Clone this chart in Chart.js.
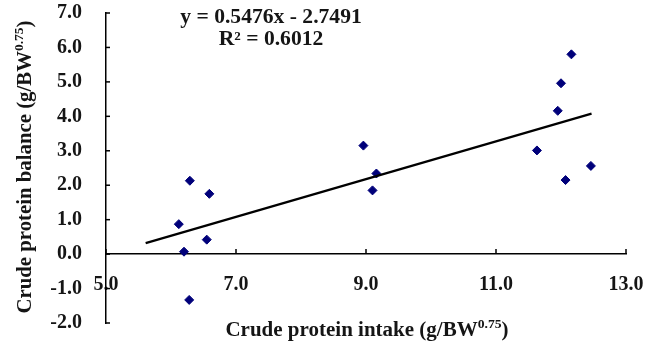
<!DOCTYPE html>
<html><head><meta charset="utf-8">
<script src="https://cdn.jsdelivr.net/npm/chart.js@4"></script>
<style>html,body{margin:0;padding:0;background:#fff}#wrap{width:655px;height:351px}</style>
</head><body><div id="wrap"><canvas id="c" width="655" height="351"></canvas></div>
<script>
const intake  = [6.29, 6.59, 6.12, 6.55, 6.20, 6.28, 8.96, 9.16, 9.10, 11.63, 11.95, 12.00, 12.16, 12.46, 12.07];
const balance = [2.13, 1.75, 0.87, 0.42, 0.07, -1.33, 3.15, 2.34, 1.85, 3.01, 4.16, 4.96, 5.80, 2.56, 2.15];
// Trend line end points
const trendX = [5.61, 12.47];
const trendY = [0.32, 4.08];
// Tick values
const xTicks = [5, 7, 9, 11, 13];
const yTicks = [-2, -1, 0, 1, 2, 3, 4, 5, 6, 7];
const equationText = 'y = 0.5476x - 2.7491';
const r2Text = 'R\u00B2 = 0.6012';
const xTitle = ['Crude protein intake (g/BW', '0.75', ')'];
const yTitle = ['Crude protein balance (g/BW', '0.75', ')'];

const FONT = 'Liberation Serif, Times New Roman, serif';

// draws main + superscript + tail centred on (0,0) of current transform
function drawSup(ctx, parts, size, supSize) {
  ctx.font = 'bold ' + size + 'px ' + FONT;
  const w1 = ctx.measureText(parts[0]).width;
  const w3 = ctx.measureText(parts[2]).width;
  ctx.font = 'bold ' + supSize + 'px ' + FONT;
  const w2 = ctx.measureText(parts[1]).width;
  const sx = -(w1 + w2 + w3) / 2;
  ctx.textAlign = 'left';
  ctx.textBaseline = 'alphabetic';
  ctx.font = 'bold ' + size + 'px ' + FONT;
  ctx.fillText(parts[0], sx, 0);
  ctx.font = 'bold ' + supSize + 'px ' + FONT;
  ctx.fillText(parts[1], sx + w1, -size * 0.42);
  ctx.font = 'bold ' + size + 'px ' + FONT;
  ctx.fillText(parts[2], sx + w1 + w2, 0);
}

const decor = {
  id: 'decor',
  afterDraw(chart) {
    const {ctx, scales: {x, y}, chartArea} = chart;
    ctx.save();
    ctx.strokeStyle = '#000';
    ctx.lineWidth = 1.5;
    const y0 = y.getPixelForValue(0);
    xTicks.forEach(v => {
      const px = x.getPixelForValue(v);
      ctx.beginPath(); ctx.moveTo(px, y0); ctx.lineTo(px, y0 - 5); ctx.stroke();
    });
    const lx = chartArea.left;
    yTicks.forEach(v => {
      const py = y.getPixelForValue(v);
      ctx.beginPath(); ctx.moveTo(lx, py); ctx.lineTo(lx + 4, py); ctx.stroke();
    });
    ctx.fillStyle = '#151515';
    // equation
    ctx.save();
    ctx.translate(271, 18);
    ctx.scale(1.08, 1);
    ctx.font = 'bold 20px ' + FONT;
    ctx.textAlign = 'center';
    ctx.textBaseline = 'middle';
    ctx.fillText(equationText, 0, 0);
    ctx.fillText(r2Text, 0, 22);
    ctx.restore();
    // x title
    ctx.save();
    ctx.translate((chartArea.left + chartArea.right) / 2 + 1, 336);
    ctx.scale(1.05, 1);
    drawSup(ctx, xTitle, 20, 13);
    ctx.restore();
    // y title
    ctx.save();
    ctx.translate(31, 167);
    ctx.rotate(-Math.PI / 2);
    ctx.scale(1.04, 1);
    drawSup(ctx, yTitle, 20, 13);
    ctx.restore();
    ctx.restore();
  }
};

const tickFont = {family: FONT, size: 20, weight: 'bold'};

new Chart(document.getElementById('c'), {
  type: 'scatter',
  data: {
    datasets: [
      {
        type: 'line',
        data: trendX.map((v, i) => ({x: v, y: trendY[i]})),
        borderColor: '#000',
        borderWidth: 2.2,
        pointRadius: 0,
        fill: false
      },
      {
        data: intake.map((v, i) => ({x: v, y: balance[i]})),
        pointStyle: 'rectRot',
        pointRadius: 4.5,
        backgroundColor: '#00007a',
        borderColor: '#00007a',
        borderWidth: 1
      }
    ]
  },
  options: {
    responsive: false,
    animation: false,
    devicePixelRatio: 1,
    layout: {padding: {left: 40, top: 13, right: 29, bottom: 28}},
    plugins: {legend: {display: false}, tooltip: {enabled: false}},
    scales: {
      x: {
        type: 'linear', min: 5, max: 13,
        position: {y: 0},
        afterBuildTicks: s => { s.ticks = xTicks.map(v => ({value: v})); },
        afterFit: s => { s.height = 0; s.paddingLeft = 0; s.paddingRight = 0; s.paddingTop = 0; s.paddingBottom = 0; },
        grid: {display: false, drawTicks: false},
        border: {display: true, color: '#000', width: 1.5},
        ticks: {padding: 19, font: tickFont, color: '#151515', maxRotation: 0, autoSkip: false,
                callback: v => Number(v).toFixed(1)}
      },
      y: {
        type: 'linear', min: -2, max: 7,
        afterBuildTicks: s => { s.ticks = yTicks.map(v => ({value: v})); },
        afterFit: s => { s.width = 66; s.paddingTop = 0; s.paddingBottom = 0; s.paddingLeft = 0; s.paddingRight = 0; },
        grid: {display: false, drawTicks: false},
        border: {display: true, color: '#000', width: 1.5},
        ticks: {padding: 24, font: tickFont, color: '#151515', autoSkip: false,
                callback: v => Number(v).toFixed(1)}
      }
    }
  },
  plugins: [decor]
});
</script>
</body></html>
